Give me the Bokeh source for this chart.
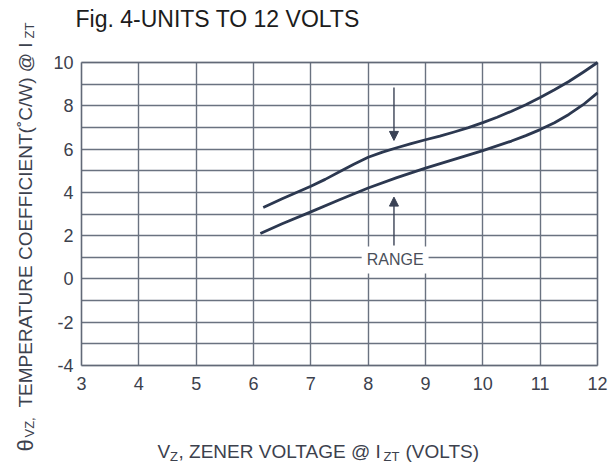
import math
from bokeh.plotting import figure
from bokeh.models import (Range1d, FixedTicker, Label, Arrow, NormalHead,
                          BoxAnnotation, LinearAxis, Grid)
from bokeh.embed import file_html
from bokeh.resources import INLINE

# ---- data ----
x_ticks = [3, 4, 5, 6, 7, 8, 9, 10, 11, 12]
y_ticks = [-4, -2, 0, 2, 4, 6, 8, 10]
y_tick_labels = {-4: "-4", -2: "-2", 0: "0", 2: "2", 4: "4", 6: "6", 8: "8", 10: "10"}
y_grid = list(range(-4, 11))

upper_v = [6.17, 6.5, 7.0, 7.25, 7.5, 7.75, 8.0, 8.25, 8.5, 8.75, 9.0, 9.25, 9.5,
           9.75, 10.0, 10.25, 10.5, 10.75, 11.0, 11.25, 11.5, 11.75, 12.0]
upper_tc = [3.3, 3.7, 4.28, 4.6, 4.95, 5.3, 5.62, 5.86, 6.06, 6.25, 6.43, 6.6, 6.79,
            6.99, 7.22, 7.47, 7.75, 8.05, 8.38, 8.74, 9.12, 9.55, 10.0]
lower_v = [6.12, 6.5, 7.0, 7.5, 8.0, 8.5, 9.0, 9.5, 10.0, 10.5, 10.75, 11.0,
           11.25, 11.5, 11.75, 12.0]
lower_tc = [2.1, 2.55, 3.1, 3.66, 4.2, 4.68, 5.12, 5.52, 5.93, 6.37, 6.62, 6.9,
            7.22, 7.6, 8.05, 8.6]

title_text = "Fig. 4-UNITS  TO 12 VOLTS"

# ---- layout (canvas pixels) ----
W, H = 609, 463
FL, FT, FW, FH = 81, 62, 516, 303      # where the chart box sits in the canvas
XMIN, XMAX, YMIN, YMAX = 3, 12, -4, 10
SX = (XMAX - XMIN) / FW
SY = (YMAX - YMIN) / FH

x_lo = XMIN - FL * SX
x_hi = XMIN + (W - FL) * SX
y_hi = YMAX + FT * SY
y_lo = YMAX - (H - FT) * SY


def dx(sx):
    return XMIN + (sx - FL) * SX


def dy(sy):
    return YMAX - (sy - FT) * SY


FONT = "Liberation Sans"
GRID = "#6a7280"
CURVE = "#2c3850"
TXT = "#3c414d"

p = figure(width=W, height=H, output_backend="svg", toolbar_location=None,
           x_range=Range1d(x_lo, x_hi), y_range=Range1d(y_lo, y_hi),
           x_axis_type=None, y_axis_type=None,
           min_border=0)
p.background_fill_color = "white"
p.border_fill_color = "white"
p.outline_line_color = None

xax = LinearAxis(fixed_location=YMIN, ticker=FixedTicker(ticks=x_ticks))
yax = LinearAxis(fixed_location=XMIN, ticker=FixedTicker(ticks=y_ticks),
                 major_label_overrides=y_tick_labels)
for ax in (xax, yax):
    ax.axis_line_color = None
    ax.major_tick_line_color = None
    ax.minor_tick_line_color = None
    ax.major_tick_out = 0
    ax.major_tick_in = 0
    ax.major_label_text_font = FONT
    ax.major_label_text_font_size = "18px"
    ax.major_label_text_color = TXT
xax.major_label_standoff = 11
yax.major_label_standoff = 8
p.add_layout(xax, "below")
p.add_layout(yax, "left")

# grid limited to the chart box
try:
    gx = Grid(dimension=0, ticker=FixedTicker(ticks=x_ticks), cross_bounds=(YMIN, YMAX),
              grid_line_color=GRID, grid_line_width=1.4)
    gy = Grid(dimension=1, ticker=FixedTicker(ticks=y_grid), cross_bounds=(XMIN, XMAX),
              grid_line_color=GRID, grid_line_width=1.4)
    p.add_layout(gx)
    p.add_layout(gy)
except Exception:
    p.segment(x0=x_ticks, y0=[YMIN] * len(x_ticks), x1=x_ticks, y1=[YMAX] * len(x_ticks),
              line_color=GRID, line_width=1.4, level="underlay")
    p.segment(x0=[XMIN] * len(y_grid), y0=y_grid, x1=[XMAX] * len(y_grid), y1=y_grid,
              line_color=GRID, line_width=1.4, level="underlay")

p.add_layout(BoxAnnotation(left=XMIN, right=XMAX, bottom=YMIN, top=YMAX,
                           fill_alpha=0, line_color="#4f5665", line_width=1.8,
                           level="underlay"))

p.line(upper_v, upper_tc, line_color=CURVE, line_width=2.8, line_join="round")
p.line(lower_v, lower_tc, line_color=CURVE, line_width=2.8, line_join="round")

# arrows and RANGE label
ARW = "#3a4255"
p.add_layout(Arrow(end=NormalHead(size=9, fill_color=ARW, line_color=ARW),
                   x_start=8.45, y_start=8.85, x_end=8.45, y_end=6.4,
                   line_color=ARW, line_width=1.4))
p.add_layout(Arrow(end=NormalHead(size=9, fill_color=ARW, line_color=ARW),
                   x_start=8.45, y_start=1.55, x_end=8.45, y_end=3.78,
                   line_color=ARW, line_width=1.4))
p.add_layout(Label(x=8.47, y=0.88, text="RANGE", text_align="center", text_baseline="middle",
                   text_font=FONT, text_font_size="16px", text_color="#4a4f5a",
                   background_fill_color="white", padding=5))

# title
p.add_layout(Label(x=dx(75), y=dy(18), text=title_text, text_font=FONT,
                   text_font_size="23px", text_color="#1c1c1c",
                   text_align="left", text_baseline="alphabetic"))


def lab(sx, sy, text, size, angle=0.0):
    p.add_layout(Label(x=dx(sx), y=dy(sy), text=text, text_font=FONT,
                       text_font_size=size, text_color=TXT, angle=angle,
                       text_align="left", text_baseline="alphabetic"))


# x axis label with subscripts
lab(157, 451, "V", "19px")
lab(169.5, 456, "Z", "13px")
lab(178, 451, ", ZENER VOLTAGE @ I", "19px")
lab(383, 456, "ZT", "13px")
lab(405, 451, "(VOLTS)", "19px")

# y axis label with subscripts (rotated)
A = math.pi / 2
lab(25, 451, "\u03b8", "22px", A)
lab(29, 437, "VZ,", "13px", A)
lab(25, 407, "TEMPERATURE COEFFICIENT(\u02daC/W) @ I", "19px", A)
lab(29, 38, "ZT", "13px", A)

open("out.html", "w").write(file_html(p, INLINE))
